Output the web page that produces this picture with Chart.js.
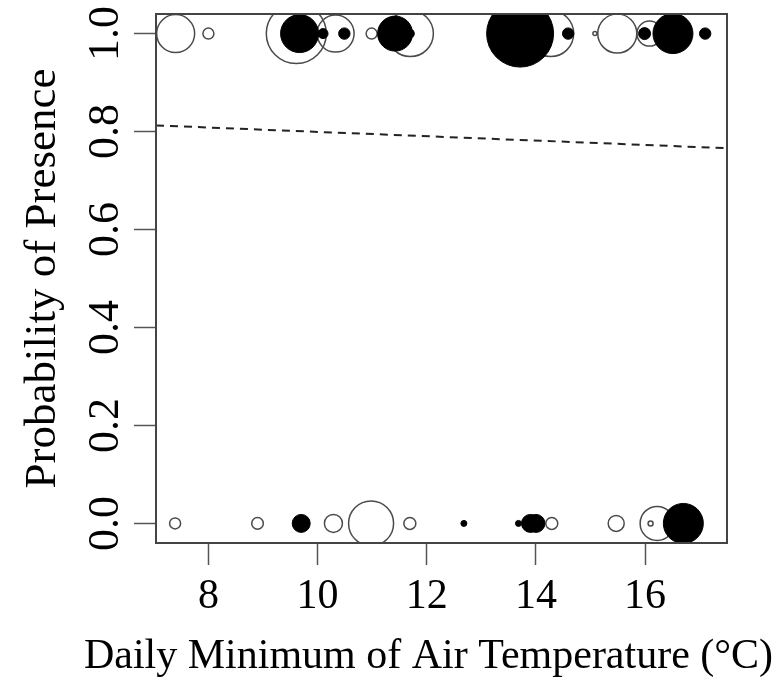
<!DOCTYPE html>
<html>
<head>
<meta charset="utf-8">
<script src="https://cdn.jsdelivr.net/npm/chart.js@4.4.0/dist/chart.umd.min.js"></script>
<style>
  html, body { margin: 0; padding: 0; background: #fff; }
  #wrap { width: 781px; height: 681px; }
</style>
</head>
<body>
<div id="wrap"><canvas id="presence" width="781" height="681"></canvas></div>
<script>
// open symbols: temperature, presence (0/1), symbol size
const openTemp = [7.40, 8.00, 9.61, 10.33, 10.99, 11.70, 14.27, 15.08, 15.49, 16.08,
                  7.39, 8.90, 10.29, 10.98, 11.69, 14.29, 15.47, 16.22, 16.10];
const openPres = [1, 1, 1, 1, 1, 1, 1, 1, 1, 1,
                  0, 0, 0, 0, 0, 0, 0, 0, 0];
const openSize = [19, 5.5, 30, 18.5, 5.5, 23, 23, 2, 19.5, 12.5,
                  5.5, 5.8, 9, 22.5, 6, 6, 8, 17, 2.5];

// filled symbols
const filledTemp = [9.67, 10.10, 10.49, 11.42, 11.70, 13.71, 14.59, 15.99, 16.51, 17.10,
                    9.70, 12.68, 13.68, 13.90, 14.00, 16.70];
const filledPres = [1, 1, 1, 1, 1, 1, 1, 1, 1, 1,
                    0, 0, 0, 0, 0, 0];
const filledSize = [19, 5, 5.7, 17.5, 4, 33.5, 5.7, 6, 20, 5.7,
                    9, 3, 3, 9, 9, 20];

// fitted probability curve
const fitTemp = [7.04, 17.50];
const fitProb = [0.8125, 0.766];

const xTicks = [8, 10, 12, 14, 16];
const yTicks = [0, 0.2, 0.4, 0.6, 0.8, 1.0];

const xTitle = 'Daily Minimum of Air Temperature (°C)';
const serif = 'Liberation Serif';

function points(xs, ys, rs) {
  return xs.map((x, i) => ({ x: x, y: ys[i], r: rs ? rs[i] : 0 }));
}

// box round the plotting region, plus the x title (too wide for the
// scale's own title, which would squeeze it to the plot width)
const frame = {
  id: 'frame',
  afterDatasetsDraw(chart) {
    const { ctx, chartArea: a } = chart;
    ctx.save();
    ctx.strokeStyle = '#444';
    ctx.lineWidth = 2;
    ctx.strokeRect(a.left, a.top, a.right - a.left, a.bottom - a.top);
    ctx.restore();
  },
  afterDraw(chart) {
    const { ctx, chartArea: a } = chart;
    ctx.save();
    ctx.fillStyle = '#000';
    ctx.font = '42px "' + serif + '"';
    ctx.textAlign = 'center';
    ctx.textBaseline = 'alphabetic';
    ctx.fillText(xTitle, (a.left + a.right) / 2 - 13, a.bottom + 125);
    ctx.restore();
  }
};

new Chart(document.getElementById('presence'), {
  type: 'bubble',
  data: {
    datasets: [
      {
        type: 'line',
        label: 'fit',
        data: points(fitTemp, fitProb),
        borderColor: '#222',
        borderWidth: 2,
        borderDash: [8, 6],
        pointRadius: 0,
        fill: false,
        order: 1
      },
      {
        label: 'filled',
        data: points(filledTemp, filledPres, filledSize),
        backgroundColor: '#000',
        borderColor: '#000',
        borderWidth: 1,
        order: 2
      },
      {
        label: 'open',
        data: points(openTemp, openPres, openSize),
        backgroundColor: 'rgba(0,0,0,0)',
        borderColor: '#4a4a4a',
        borderWidth: 1.5,
        order: 3
      }
    ]
  },
  options: {
    responsive: false,
    animation: false,
    events: [],
    layout: { autoPadding: false, padding: { left: 0, top: 14, right: 54, bottom: 0 } },
    plugins: { legend: { display: false }, tooltip: { enabled: false } },
    scales: {
      x: {
        type: 'linear',
        min: 7.04,
        max: 17.50,
        afterBuildTicks: s => { s.ticks = xTicks.map(v => ({ value: v })); },
        afterFit: s => { s.height = 138; s.paddingLeft = 0; s.paddingRight = 0; },
        grid: { drawOnChartArea: false, drawTicks: true, tickLength: 22, color: '#555', tickWidth: 1.5 },
        border: { display: false },
        ticks: {
          autoSkip: false,
          maxRotation: 0,
          padding: 7,
          color: '#000',
          font: { family: serif, size: 42 },
          callback: v => String(v)
        }
      },
      y: {
        type: 'linear',
        min: -0.04,
        max: 1.04,
        afterBuildTicks: s => { s.ticks = yTicks.map(v => ({ value: v })); },
        afterFit: s => { s.width = 156; s.paddingTop = 0; s.paddingBottom = 0; },
        grid: { drawOnChartArea: false, drawTicks: true, tickLength: 22, color: '#555', tickWidth: 1.5 },
        border: { display: false },
        ticks: {
          autoSkip: false,
          minRotation: 90,
          maxRotation: 90,
          crossAlign: 'center',
          padding: 0,
          color: '#000',
          font: { family: serif, size: 44 },
          callback: v => v.toFixed(1)
        },
        title: {
          display: true,
          text: 'Probability of Presence',
          color: '#000',
          font: { family: serif, size: 45 },
          padding: { top: 16, bottom: 0 }
        }
      }
    }
  },
  plugins: [frame]
});
</script>
</body>
</html>
